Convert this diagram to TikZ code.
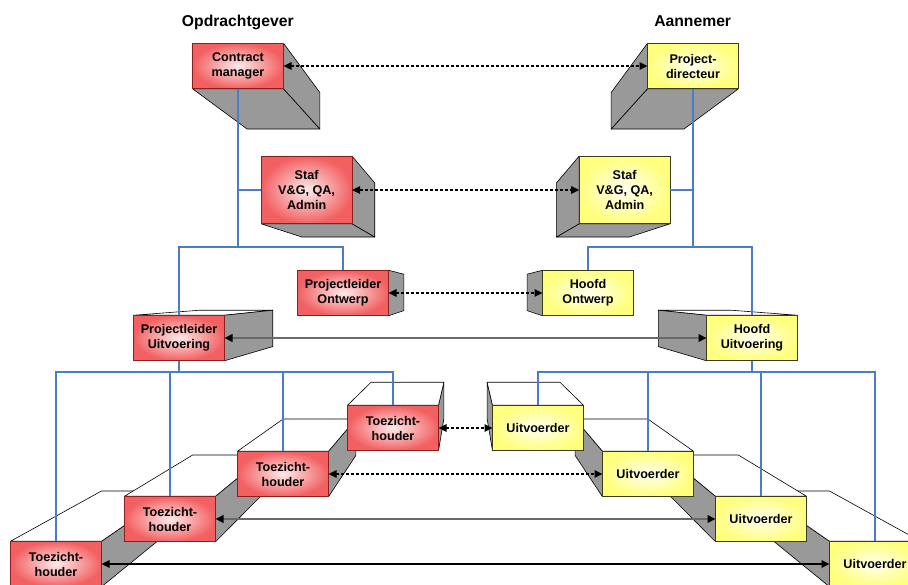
\documentclass[tikz,border=0pt]{standalone}
\usepackage{fontspec}
\setmainfont{Liberation Sans}
\usetikzlibrary{calc,arrows.meta}
\pgfdeclarelayer{ext}
\pgfsetlayers{ext,main}
\definecolor{redout}{RGB}{242,96,98}
\definecolor{redin}{RGB}{255,234,234}
\definecolor{redline}{RGB}{140,30,30}
\definecolor{yelout}{RGB}{255,255,125}
\definecolor{yelin}{RGB}{255,255,240}
\definecolor{yelline}{RGB}{60,60,20}
\definecolor{sidegray}{RGB}{153,153,153}
\definecolor{orgblue}{RGB}{74,125,201}
\definecolor{arrgray}{RGB}{105,105,105}
\tikzset{
 frontface/.style={minimum width=91pt, minimum height=45.5pt, inner sep=0pt, outer sep=0pt,
   align=center, font=\bfseries\fontsize{12.6}{15}\selectfont, line width=0.8pt},
 redbox/.style={frontface, draw=redline, inner color=redin, outer color=redout},
 yelbox/.style={frontface, draw=yelline, inner color=yelin, outer color=yelout},
 grayface/.style={fill=sidegray, draw=black, line width=0.6pt, line join=round},
 whiteface/.style={fill=white, draw=black, line width=0.6pt, line join=round},
 org/.style={draw=orgblue, line width=1.6pt},
 conn/.style={{Triangle[length=8pt,width=7.5pt,color=black]}-{Triangle[length=8pt,width=7.5pt,color=black]}, line width=1.3pt},
 dconn/.style={conn, draw=black, line width=1.4pt, dash pattern=on 3pt off 2pt},
 gconn/.style={conn, draw=arrgray, line width=2pt},
 bconn/.style={conn, draw=black},
 heading/.style={font=\bfseries\fontsize{15.7}{18}\selectfont, anchor=base},
}
\newcommand\sideR[1]{\path[grayface] (#1.north east) -- (#1.south east) -- ($(#1.south east)!0.2!(V)$) -- ($(#1.north east)!0.2!(V)$) -- cycle;}
\newcommand\sideL[1]{\path[grayface] (#1.north west) -- (#1.south west) -- ($(#1.south west)!0.2!(V)$) -- ($(#1.north west)!0.2!(V)$) -- cycle;}
\newcommand\faceB[1]{\path[grayface] (#1.south west) -- (#1.south east) -- ($(#1.south east)!0.2!(V)$) -- ($(#1.south west)!0.2!(V)$) -- cycle;}
\newcommand\faceT[1]{\path[whiteface] (#1.north west) -- (#1.north east) -- ($(#1.north east)!0.2!(V)$) -- ($(#1.north west)!0.2!(V)$) -- cycle;}
\begin{document}
\begin{tikzpicture}[x=1pt,y=-1pt]
\useasboundingbox (0,0) rectangle (908,584);
\clip (0,0) rectangle (908,584);
\coordinate (V) at (465.5,290);
\coordinate (busL) at (0,247);
\coordinate (busB) at (0,372);
\node[heading] (og) at (237.8,26) {Opdrachtgever};
\node[heading] (an) at (692.7,26) {Aannemer};
% front faces
\node[redbox] (CM) at (238,66) {Contract\\manager};
\node[yelbox] (PD) at (693,66) {Project-\\directeur};
\node[redbox, minimum height=67.6pt] (SL) at (306.6,190) {Staf\\V\&G, QA,\\Admin};
\node[yelbox, minimum height=67.6pt] (SR) at (624.6,190) {Staf\\V\&G, QA,\\Admin};
\node[redbox] (PO) at (343,293) {Projectleider\\Ontwerp};
\node[yelbox] (HO) at (588,293) {Hoofd\\Ontwerp};
\node[redbox] (PU) at (179,338) {Projectleider\\Uitvoering};
\node[yelbox] (HU) at (752,338) {Hoofd\\Uitvoering};
\node[redbox] (T1) at (393,428) {Toezicht-\\houder};
\node[redbox] (T2) at (283,474) {Toezicht-\\houder};
\node[redbox] (T3) at (170,519) {Toezicht-\\houder};
\node[redbox] (T4) at (56,564) {Toezicht-\\houder};
\node[yelbox] (U1) at (538,428) {Uitvoerder};
\node[yelbox] (U2) at (648,474) {Uitvoerder};
\node[yelbox] (U3) at (761,519) {Uitvoerder};
\node[yelbox] (U4) at (875,564) {Uitvoerder};
% extrusions (farthest first)
\begin{pgfonlayer}{ext}
\faceB{CM}\sideR{CM}
\faceB{PD}\sideL{PD}
\faceB{SL}\sideR{SL}
\faceB{SR}\sideL{SR}
\sideR{PO}
\sideL{HO}
\faceT{PU}\sideR{PU}
\faceT{HU}\sideL{HU}
\sideR{T4}\faceT{T4}
\sideR{T3}\faceT{T3}
\sideR{T2}\faceT{T2}
\sideR{T1}\faceT{T1}
\sideL{U4}\faceT{U4}
\sideL{U3}\faceT{U3}
\sideL{U2}\faceT{U2}
\sideL{U1}\faceT{U1}
\end{pgfonlayer}
% organisation lines
\draw[org] (CM.south) -- (CM.south |- busL);
\draw[org] (CM.south |- SL.west) -- (SL.west);
\draw[org] (PU.north) |- (PO.north |- busL) -- (PO.north);
\draw[org] (PD.south) -- (PD.south |- busL);
\draw[org] (PD.south |- SR.east) -- (SR.east);
\draw[org] (HO.north) |- (HU.north |- busL) -- (HU.north);
\draw[org] (PU.south) -- (PU.south |- busB);
\draw[org] (T4.north) |- (T1.north |- busB) -- (T1.north);
\draw[org] (T3.north) -- (T3.north |- busB);
\draw[org] (T2.north) -- (T2.north |- busB);
\draw[org] (HU.south) -- (HU.south |- busB);
\draw[org] (U1.north) |- (U4.north |- busB) -- (U4.north);
\draw[org] (U2.north) -- (U2.north |- busB);
\draw[org] (U3.north) -- (U3.north |- busB);
% relations
\draw[dconn] (CM.east) -- (PD.west);
\draw[dconn] (SL.east) -- (SR.west);
\draw[dconn] (PO.east) -- (HO.west);
\draw[gconn] (PU.east) -- (HU.west);
\draw[dconn] (T1.east) -- (U1.west);
\draw[dconn] (T2.east) -- (U2.west);
\draw[gconn] (T3.east) -- (U3.west);
\draw[bconn] (T4.east) -- (U4.west);
\end{tikzpicture}
\end{document}
